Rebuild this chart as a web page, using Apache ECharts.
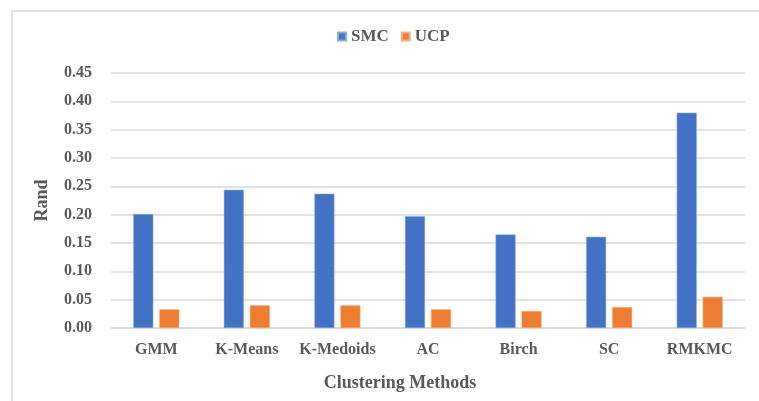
<!DOCTYPE html>
<html>
<head>
<meta charset="utf-8">
<script src="https://cdn.jsdelivr.net/npm/echarts@6/dist/echarts.min.js"></script>
<style>
  html, body { margin: 0; padding: 0; background: #fff; }
  #chart { width: 759px; height: 401px; }
</style>
</head>
<body>
<div id="chart"></div>
<script>
// values
var methods = ['GMM', 'K-Means', 'K-Medoids', 'AC', 'Birch', 'SC', 'RMKMC']
var smcValues = [0.201, 0.244, 0.237, 0.197, 0.165, 0.161, 0.380]
var ucpValues = [0.033, 0.040, 0.040, 0.033, 0.030, 0.037, 0.055]

var myChart = echarts.init(document.getElementById('chart'))
var font = 'Liberation Serif, Times New Roman, serif'
var grey = '#595959'

var option = {
  backgroundColor: '#fff',
  animation: false,
  graphic: [{
    type: 'rect',
    shape: { x: 12, y: 11, width: 760, height: 400 },
    style: { fill: 'none', stroke: '#d9d9d9', lineWidth: 1.5 },
    silent: true
  }],
  title: {
    text: 'Clustering Methods',
    left: 395,
    top: 369,
    textAlign: 'center',
    textStyle: { fontFamily: font, fontWeight: 'bold', fontSize: 18, color: grey }
  },
  legend: {
    left: 337,
    top: 28,
    padding: 0,
    itemWidth: 8,
    itemHeight: 8,
    itemGap: 12,
    icon: 'rect',
    textStyle: { fontFamily: font, fontWeight: 'bold', fontSize: 17, color: grey },
    data: ['SMC', 'UCP']
  },
  grid: {
    left: 111,
    right: 14,
    top: 73,
    bottom: 73,
    containLabel: false
  },
  xAxis: {
    type: 'category',
    data: methods,
    axisLine: { lineStyle: { color: '#d9d9d9', width: 1.5 } },
    axisTick: { show: false },
    axisLabel: {
      margin: 14,
      fontFamily: font,
      fontWeight: 'bold',
      fontSize: 16,
      color: grey,
      interval: 0
    }
  },
  yAxis: {
    type: 'value',
    min: 0,
    max: 0.45,
    interval: 0.05,
    name: 'Rand',
    nameLocation: 'middle',
    nameGap: 60,
    nameTextStyle: { fontFamily: font, fontWeight: 'bold', fontSize: 18, color: grey },
    axisLine: { show: false },
    axisTick: { show: false },
    splitLine: { lineStyle: { color: '#d9d9d9', width: 1.5 } },
    axisLabel: {
      margin: 19,
      fontFamily: font,
      fontWeight: 'bold',
      fontSize: 16,
      color: grey,
      formatter: function (v) { return v.toFixed(2) }
    }
  },
  series: [{
    name: 'SMC',
    type: 'bar',
    barWidth: 20,
    barGap: '30%',
    itemStyle: { color: '#4472C4', borderColor: '#8faadc', borderWidth: 0.5 },
    data: smcValues
  }, {
    name: 'UCP',
    type: 'bar',
    barWidth: 20,
    itemStyle: { color: '#ED7D31', borderColor: '#f4b183', borderWidth: 0.5 },
    data: ucpValues
  }]
}
myChart.setOption(option)
</script>
</body>
</html>
